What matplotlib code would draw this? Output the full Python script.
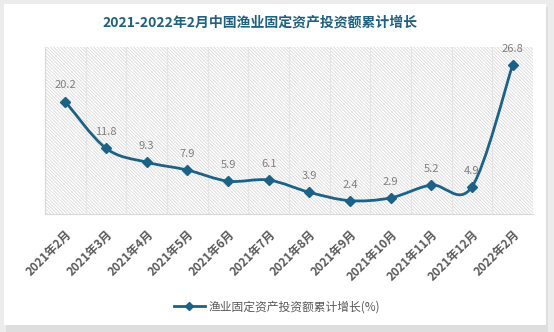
import matplotlib.pyplot as plt
from matplotlib.path import Path
from matplotlib.patches import PathPatch, Rectangle
from matplotlib.lines import Line2D
import numpy as np

plt.rcParams['font.family'] = ['Noto Sans CJK SC', 'DejaVu Sans']
plt.rcParams['hatch.linewidth'] = 0.6
plt.rcParams['hatch.color'] = '#d8d8d8'

months = ['2021年2月', '2021年3月', '2021年4月', '2021年5月', '2021年6月', '2021年7月',
          '2021年8月', '2021年9月', '2021年10月', '2021年11月', '2021年12月', '2022年2月']
growth = [20.2, 11.8, 9.3, 7.9, 5.9, 6.1, 3.9, 2.4, 2.9, 5.2, 4.9, 26.8]
series_name = '渔业固定资产投资额累计增长(%)'
title = '2021-2022年2月中国渔业固定资产投资额累计增长'

line_color = '#1c6287'

fig = plt.figure(figsize=(5.54, 3.32), dpi=100, facecolor='#ececec')

# white card with a soft shadow
fig.patches.append(Rectangle((6 / 554, 0.0), 542 / 554, 1 - 7 / 332, transform=fig.transFigure,
                             facecolor='#dedede', edgecolor='none', zorder=-2))
fig.patches.append(Rectangle((4 / 554, 7 / 332), 542 / 554, 1 - 11 / 332, transform=fig.transFigure,
                             facecolor='white', edgecolor='none', zorder=-1))

ax = fig.add_axes([45 / 554, 1 - 214 / 332, 488 / 554, 167 / 332])
ax.set_zorder(2)
ax.set_facecolor('white')
ax.add_patch(Rectangle((0, 0), 1, 1, transform=ax.transAxes, facecolor='none',
                       edgecolor='#d8d8d8', hatch='\\' * 10, linewidth=0, zorder=0))

x = np.arange(len(growth))
y = np.array(growth, dtype=float)

# smoothed line (Catmull-Rom converted to cubic Bezier segments)
pts = np.column_stack([x, y])
verts = [pts[0]]
codes = [Path.MOVETO]
for i in range(len(pts) - 1):
    p0 = pts[i - 1] if i > 0 else pts[i]
    p1 = pts[i]
    p2 = pts[i + 1]
    p3 = pts[i + 2] if i + 2 < len(pts) else pts[i + 1]
    c1 = p1 + (p2 - p0) / 6
    c2 = p2 - (p3 - p1) / 6
    verts += [c1, c2, p2]
    codes += [Path.CURVE4] * 3
ax.add_patch(PathPatch(Path(verts, codes), facecolor='none', edgecolor=line_color,
                       linewidth=2, zorder=3, capstyle='round', joinstyle='round'))
ax.plot(x, y, linestyle='none', marker='D', markersize=5.5, color=line_color, zorder=4)

for xi, yi in zip(x, y):
    ax.annotate(f'{yi:.1f}', (xi, yi), xytext=(0, 8), textcoords='offset points',
                ha='center', va='bottom', fontsize=8, color='#7f7f7f', zorder=5)

ax.set_xlim(-0.5, len(growth) - 0.5)
ax.set_ylim(0, 30)
ax.set_yticks([])
ax.set_xticks(x)
ax.set_xticklabels(months, rotation=45, ha='right', va='top', rotation_mode='anchor',
                   fontsize=8.5, fontweight='bold', color='#595959')
ax.tick_params(axis='x', length=0, pad=10)
for xb in np.arange(0.5, len(growth) - 0.5):
    ax.axvline(xb, color='#e4e4e4', linewidth=0.8, zorder=1)
for side in ['top', 'right']:
    ax.spines[side].set_visible(False)
for side in ['left', 'bottom']:
    ax.spines[side].set_color('#d9d9d9')
    ax.spines[side].set_linewidth(0.8)

fig.text(260 / 554, 1 - 23 / 332, title, ha='center', va='center', fontsize=10,
         fontweight='bold', color='#20607f')

handle = Line2D([], [], color=line_color, linewidth=2, marker='D', markersize=4.5)
fig.legend([handle], [series_name], loc='center', bbox_to_anchor=(0.5, 1 - 307 / 332),
           frameon=False, fontsize=8.5, labelcolor='#595959', handlelength=2.6,
           handletextpad=0.3)

fig.savefig('out.png', dpi=100, facecolor=fig.get_facecolor())
